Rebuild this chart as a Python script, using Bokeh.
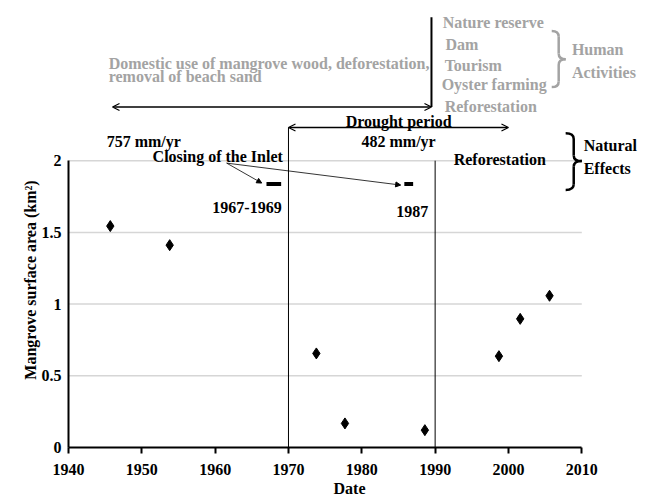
from bokeh.plotting import figure
from bokeh.models import (FixedTicker, NumeralTickFormatter, Label, Arrow, OpenHead,
                          NormalHead, LinearAxis)
from bokeh.embed import file_html
from bokeh.resources import INLINE

# ---------------- data ----------------
years = [1945.7, 1953.8, 1973.8, 1977.7, 1988.6, 1998.7, 2001.6, 2005.6]
area = [1.544, 1.411, 0.656, 0.168, 0.121, 0.637, 0.897, 1.058]
x_ticks = [1940, 1950, 1960, 1970, 1980, 1990, 2000, 2010]
y_ticks = [0, 0.5, 1, 1.5, 2]
closing_start = [1967, 1985.8]
closing_end = [1969, 1987]
drought_start, drought_end = 1970, 2000
human_start, human_end = 1946, 1989.5
reforest_year = 1990

FONT = "Liberation Serif"
FS = "16px"
GRAY = "#a3a3a3"
NB = "\u00a0"

p = figure(width=650, height=502, x_range=(1940, 2019.37), y_range=(0, 3.117),
           output_backend="svg", toolbar_location=None,
           min_border_left=68, min_border_right=0, min_border_top=0, min_border_bottom=55)
p.outline_line_color = None
p.xgrid.visible = False
p.ygrid.visible = False
p.background_fill_color = "white"

# axes
xa = p.xaxis[0]
xa.ticker = FixedTicker(ticks=x_ticks)
xa.bounds = (x_ticks[0], x_ticks[-1])
xa.axis_line_width = 2
xa.major_tick_out = 6
xa.major_tick_in = 0
xa.major_tick_line_width = 2
xa.minor_tick_line_color = None
xa.major_label_text_font = FONT
xa.major_label_text_font_style = "bold"
xa.major_label_text_font_size = FS
xa.major_label_text_color = "black"
xa.major_label_standoff = 10

ya = p.yaxis[0]
ya.ticker = FixedTicker(ticks=y_ticks)
ya.formatter = NumeralTickFormatter(format="0.[0]")
ya.bounds = (y_ticks[0], y_ticks[-1])
ya.axis_line_width = 2
ya.major_tick_out = 0
ya.major_tick_in = 0
ya.minor_tick_line_color = None
ya.major_label_text_font = FONT
ya.major_label_text_font_style = "bold"
ya.major_label_text_font_size = FS
ya.major_label_text_color = "black"
ya.major_label_standoff = 7


def title_axis(label, side, standoff):
    ax = LinearAxis(ticker=FixedTicker(ticks=[]), axis_label=label,
                    axis_line_color=None, major_tick_line_color=None,
                    minor_tick_line_color=None, axis_label_standoff=standoff,
                    axis_label_text_font=FONT, axis_label_text_font_style="bold",
                    axis_label_text_font_size=FS, axis_label_text_color="black")
    p.add_layout(ax, side)


# trailing no-break spaces shift the centred titles to where the reference has them
title_axis("Mangrove surface area (km²)" + NB * 28, "left", 0)
title_axis("Date" + NB * 5, "below", 2)

# gridlines (drawn within axis bounds)
gy = y_ticks[1:]
p.segment(x0=[x_ticks[0]] * len(gy), x1=[x_ticks[-1]] * len(gy), y0=gy, y1=gy,
          line_color="#d6d6d6", line_width=1.5, level="underlay")

# vertical period lines
p.segment(x0=[drought_start], x1=[drought_start], y0=[0], y1=[2.232], line_color="black", line_width=1)
p.segment(x0=[reforest_year], x1=[reforest_year], y0=[0], y1=[2.0], line_color="black", line_width=1)
p.segment(x0=[human_end], x1=[human_end], y0=[2.374], y1=[3.0], line_color="black", line_width=2)

# closing bars
p.segment(x0=closing_start, x1=closing_end, y0=[1.837] * 2, y1=[1.837] * 2,
          line_color="black", line_width=4, line_cap="butt")

# data points
p.scatter(x=years, y=area, marker="diamond", size=11, color="black")

# arrows
p.add_layout(Arrow(start=OpenHead(size=7, line_width=1.2), end=OpenHead(size=7, line_width=1.2),
                   x_start=human_start, y_start=2.374, x_end=human_end, y_end=2.374,
                   line_width=1.5))
p.add_layout(Arrow(start=OpenHead(size=7, line_width=1.2), end=OpenHead(size=7, line_width=1.2),
                   x_start=drought_start, y_start=2.232, x_end=drought_end, y_end=2.232,
                   line_width=1.5))
for xe, ye in [(1966.35, 1.844), (1985.3, 1.830)]:
    p.add_layout(Arrow(start=None, end=NormalHead(size=5, line_width=1, fill_color="black"),
                       x_start=1961.57, y_start=1.983, x_end=xe, y_end=ye, line_width=0.8))


def lab(x, y, t, color="black", align="left", angle=0.0):
    p.add_layout(Label(x=x, y=y, text=t, text_font=FONT, text_font_style="bold",
                       text_font_size=FS, text_color=color, text_align=align,
                       text_baseline="alphabetic", angle=angle))


# gray human-activity texts
lab(1945.48, 2.681, "Domestic use of mangrove wood, deforestation,", GRAY)
lab(1945.48, 2.590, "removal of beach sand", GRAY)
lab(1991.03, 2.967, "Nature reserve", GRAY)
lab(1991.40, 2.813, "Dam", GRAY)
lab(1991.30, 2.666, "Tourism", GRAY)
lab(1990.89, 2.534, "Oyster farming", GRAY)
lab(1991.30, 2.381, "Reforestation", GRAY)
lab(2008.65, 2.778, "Human", GRAY)
lab(2008.65, 2.618, "Activities", GRAY)

# black natural-effect texts
lab(1985.02, 2.276, "Drought period", align="center")
lab(1985.02, 2.136, "482 mm/yr", align="center")
lab(1945.21, 2.136, "757 mm/yr")
lab(1960.35, 2.027, "Closing of the Inlet", align="center")
lab(1969.07, 1.676, "1967-1969", align="right")
lab(1986.87, 1.644, "1987", align="center")
lab(1992.53, 2.011, "Reforestation")
lab(2010.26, 2.108, "Natural")
lab(2010.26, 1.948, "Effects")


# braces
def brace(L, R, T, B, M, q, color, w):
    X = (L + R) / 2
    p.quadratic(x0=[L, X, R, X], y0=[T, M + q, M, B + q],
                x1=[X, R, X, L], y1=[T - q, M, M - q, B],
                cx=[X, X, X, X], cy=[T, M, M, B], line_color=color, line_width=w)
    p.segment(x0=[X, X], x1=[X, X], y0=[T - q, M - q], y1=[M + q, B + q],
              line_color=color, line_width=w)


brace(2005.9, 2007.8, 2.904, 2.513, 2.708, 0.04, GRAY, 2.5)
brace(2007.8, 2010.0, 2.192, 1.795, 1.997, 0.04, "black", 2.5)

open("out.html", "w").write(file_html(p, INLINE))
